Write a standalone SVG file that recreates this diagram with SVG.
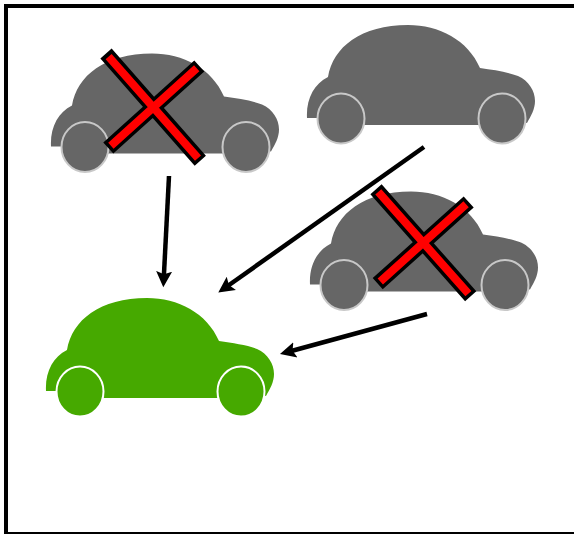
<svg xmlns="http://www.w3.org/2000/svg" width="574" height="534" viewBox="0 0 574 534">
<style>
.gray{fill:#666;stroke:#c8c8c8}
.green{fill:#46a900;stroke:#fff}
.b{stroke:none}
.w{stroke-width:2}
.xb{stroke:#000;stroke-width:15;fill:none}
.xr{stroke:#f00;stroke-width:8;fill:none}
.a{stroke:#000;stroke-width:4.500;fill:none;marker-end:url(#h)}
</style>
<defs>
<marker id="h" markerUnits="userSpaceOnUse" markerWidth="18" markerHeight="18" refX="8" refY="8" orient="auto" viewBox="0 0 18 16"><path d="M0 0L16 8L0 16L3 8z" fill="#000"/></marker>
<g id="car">
<path class="b" d="M46 391C45 372 53 357 67 350C72 320 100 298 147 298C178 298 207 313 219 341C233 343 247 345 257 349C268 354 274 364 274 374C274 382 270 389 266 396L241 391V398H80V391z"/>
<ellipse class="w" cx="80" cy="391.500" rx="23.500" ry="25"/>
<ellipse class="w" cx="241" cy="391.500" rx="23.500" ry="25"/>
</g>
</defs>
<rect id="frame" x="6" y="6" width="570" height="528" fill="#fff" stroke="#000" stroke-width="4"/>
<g id="car1" class="gray"><use href="#car" x="5" y="-244.500"/></g>
<g id="car2" class="gray"><use href="#car" x="261" y="-273"/></g>
<g id="car3" class="gray"><use href="#car" x="264" y="-106.500"/></g>
<g id="car4" class="green"><use href="#car"/></g>
<g id="cross1">
<path class="xb" d="M106 53.500L200.300 160.700M199.300 66L108.300 148"/>
<path class="xr" d="M108.600 56.600L198 158.100M196.700 68.300L110.900 145.700"/>
</g>
<g id="cross3">
<path class="xb" d="M376 189.300L470.700 296.300M468.700 202L377.700 283.700"/>
<path class="xr" d="M378.300 191.900L468.400 293.700M466.100 204.300L380.300 281.400"/>
</g>
<g id="connectors">
<path class="a" d="M169 176L163.700 279.300"/>
<path class="a" d="M424 147L224.800 288"/>
<path class="a" d="M427 314L287.700 352"/>
</g>
</svg>
